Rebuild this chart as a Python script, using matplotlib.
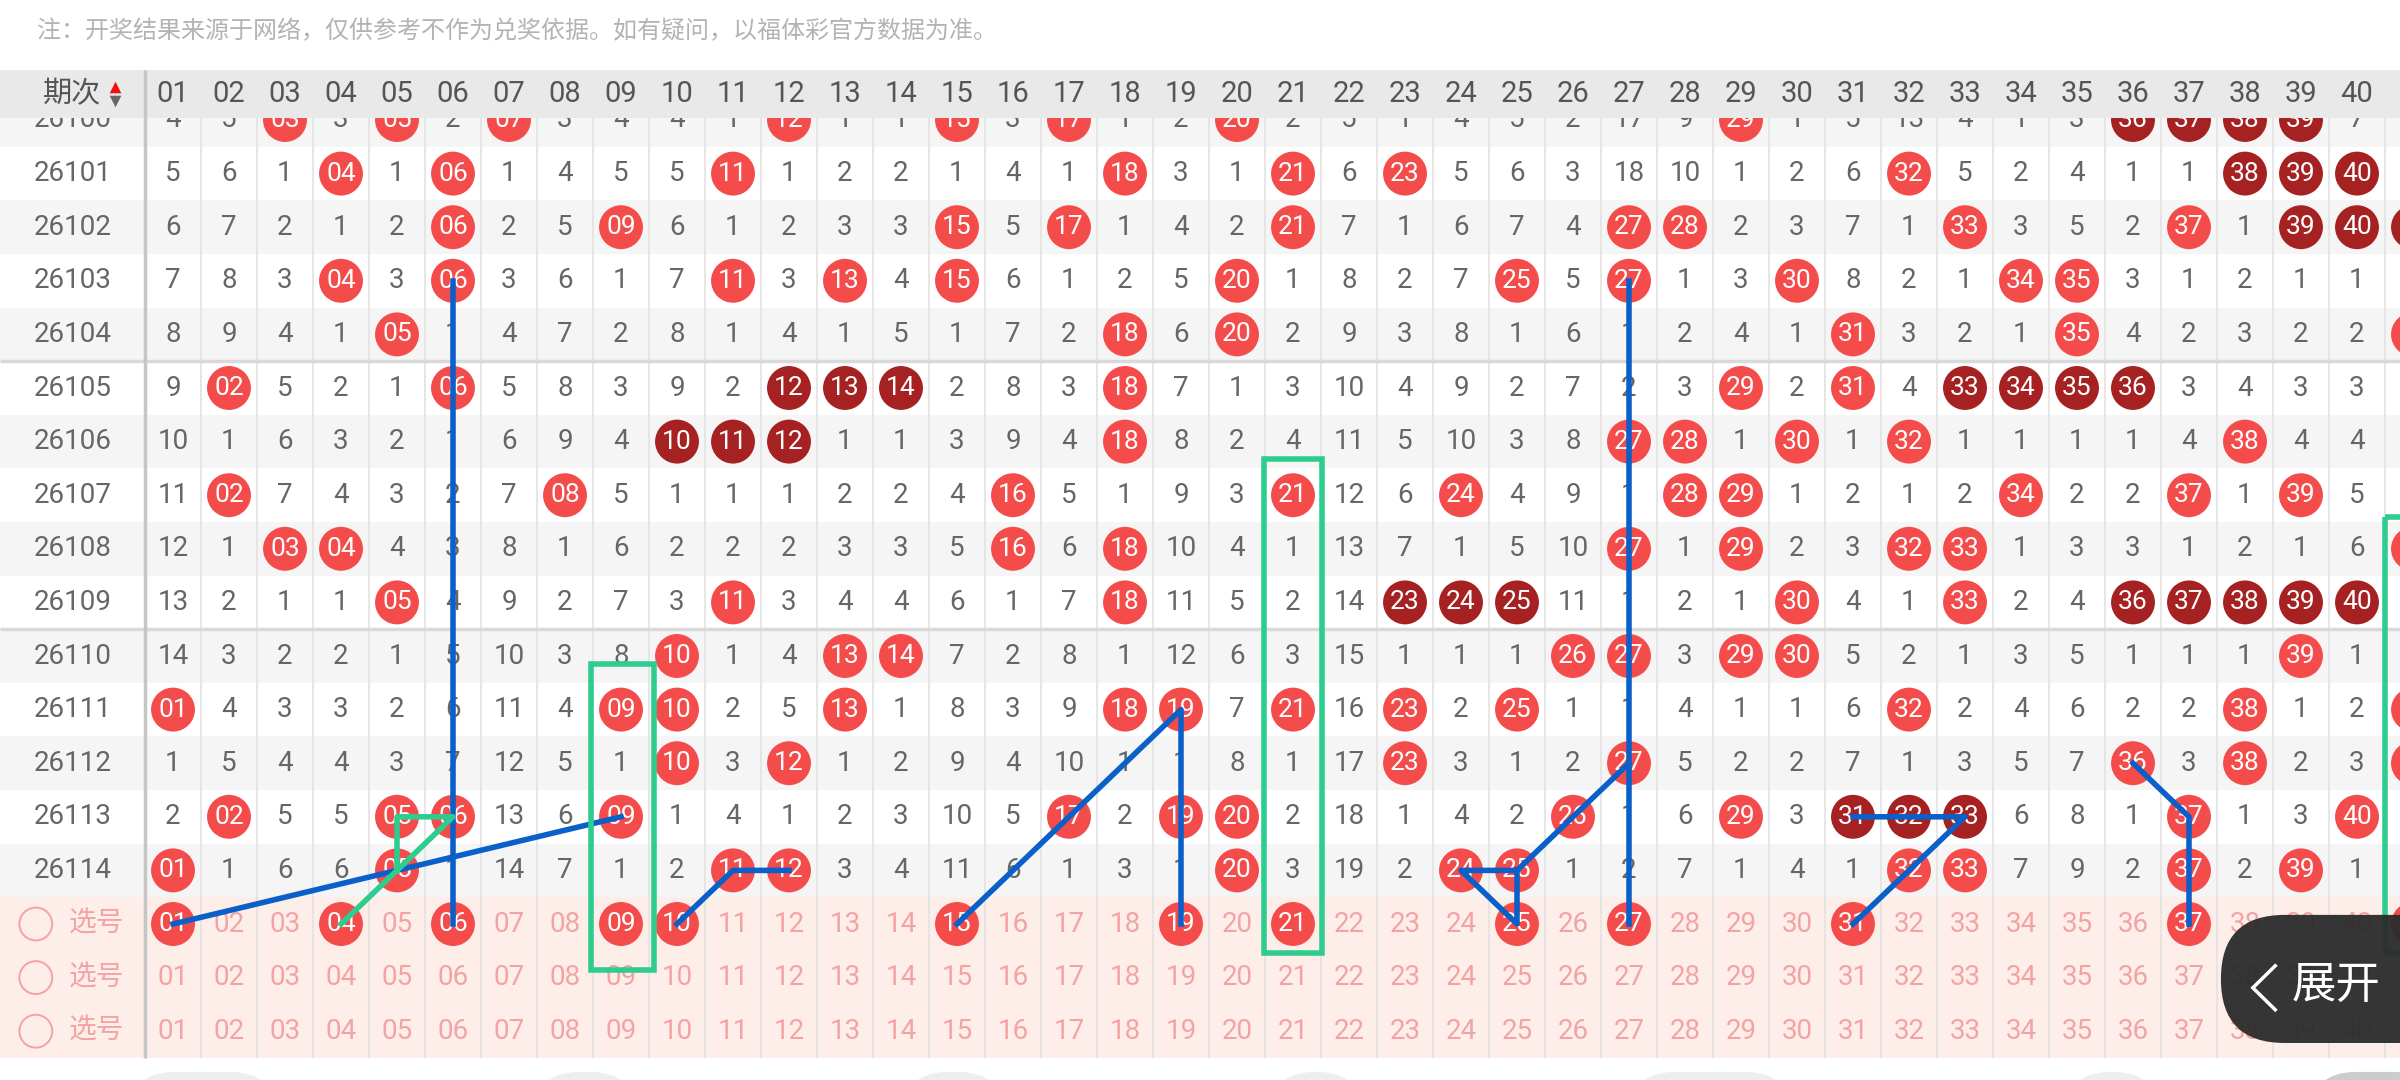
import matplotlib.pyplot as plt
from matplotlib.patches import FancyBboxPatch, Rectangle

plt.rcParams['font.family'] = ['Roboto', 'Noto Sans CJK SC', 'DejaVu Sans']

note = "注：开奖结果来源于网络，仅供参考不作为兑奖依据。如有疑问，以福体彩官方数据为准。"
periods = ['26100', '26101', '26102', '26103', '26104', '26105', '26106', '26107',
           '26108', '26109', '26110', '26111', '26112', '26113', '26114']
columns = list(range(1, 42))
shown_cols = 40  # column 41 only peeks in at the right edge

# omission counts per number 01..41, 0 = drawn in that period
p26100 = [4, 5, 0, 3, 0, 2, 0, 3, 4, 4, 1, 0, 1, 1, 0, 3, 0, 1, 2, 0, 2, 5, 1, 4, 5, 2, 17, 9, 0, 1, 5, 13, 4, 1, 3, 0, 0, 0, 0, 7, 1]
p26101 = [5, 6, 1, 0, 1, 0, 1, 4, 5, 5, 0, 1, 2, 2, 1, 4, 1, 0, 3, 1, 0, 6, 0, 5, 6, 3, 18, 10, 1, 2, 6, 0, 5, 2, 4, 1, 1, 0, 0, 0, 2]
p26102 = [6, 7, 2, 1, 2, 0, 2, 5, 0, 6, 1, 2, 3, 3, 0, 5, 0, 1, 4, 2, 0, 7, 1, 6, 7, 4, 0, 0, 2, 3, 7, 1, 0, 3, 5, 2, 0, 1, 0, 0, 0]
p26103 = [7, 8, 3, 0, 3, 0, 3, 6, 1, 7, 0, 3, 0, 4, 0, 6, 1, 2, 5, 0, 1, 8, 2, 7, 0, 5, 0, 1, 3, 0, 8, 2, 1, 0, 0, 3, 1, 2, 1, 1, 1]
p26104 = [8, 9, 4, 1, 0, 1, 4, 7, 2, 8, 1, 4, 1, 5, 1, 7, 2, 0, 6, 0, 2, 9, 3, 8, 1, 6, 1, 2, 4, 1, 0, 3, 2, 1, 0, 4, 2, 3, 2, 2, 0]
p26105 = [9, 0, 5, 2, 1, 0, 5, 8, 3, 9, 2, 0, 0, 0, 2, 8, 3, 0, 7, 1, 3, 10, 4, 9, 2, 7, 2, 3, 0, 2, 0, 4, 0, 0, 0, 0, 3, 4, 3, 3, 1]
p26106 = [10, 1, 6, 3, 2, 1, 6, 9, 4, 0, 0, 0, 1, 1, 3, 9, 4, 0, 8, 2, 4, 11, 5, 10, 3, 8, 0, 0, 1, 0, 1, 0, 1, 1, 1, 1, 4, 0, 4, 4, 2]
p26107 = [11, 0, 7, 4, 3, 2, 7, 0, 5, 1, 1, 1, 2, 2, 4, 0, 5, 1, 9, 3, 0, 12, 6, 0, 4, 9, 1, 0, 0, 1, 2, 1, 2, 0, 2, 2, 0, 1, 0, 5, 3]
p26108 = [12, 1, 0, 0, 4, 3, 8, 1, 6, 2, 2, 2, 3, 3, 5, 0, 6, 0, 10, 4, 1, 13, 7, 1, 5, 10, 0, 1, 0, 2, 3, 0, 0, 1, 3, 3, 1, 2, 1, 6, 0]
p26109 = [13, 2, 1, 1, 0, 4, 9, 2, 7, 3, 0, 3, 4, 4, 6, 1, 7, 0, 11, 5, 2, 14, 0, 0, 0, 11, 1, 2, 1, 0, 4, 1, 0, 2, 4, 0, 0, 0, 0, 0, 1]
p26110 = [14, 3, 2, 2, 1, 5, 10, 3, 8, 0, 1, 4, 0, 0, 7, 2, 8, 1, 12, 6, 3, 15, 1, 1, 1, 0, 0, 3, 0, 0, 5, 2, 1, 3, 5, 1, 1, 1, 0, 1, 2]
p26111 = [0, 4, 3, 3, 2, 6, 11, 4, 0, 0, 2, 5, 0, 1, 8, 3, 9, 0, 0, 7, 0, 16, 0, 2, 0, 1, 1, 4, 1, 1, 6, 0, 2, 4, 6, 2, 2, 0, 1, 2, 0]
p26112 = [1, 5, 4, 4, 3, 7, 12, 5, 1, 0, 3, 0, 1, 2, 9, 4, 10, 1, 1, 8, 1, 17, 0, 3, 1, 2, 0, 5, 2, 2, 7, 1, 3, 5, 7, 0, 3, 0, 2, 3, 0]
p26113 = [2, 0, 5, 5, 0, 0, 13, 6, 0, 1, 4, 1, 2, 3, 10, 5, 0, 2, 0, 0, 2, 18, 1, 4, 2, 0, 1, 6, 0, 3, 0, 0, 0, 6, 8, 1, 0, 1, 3, 0, 1]
p26114 = [0, 1, 6, 6, 0, 1, 14, 7, 1, 2, 0, 0, 3, 4, 11, 6, 1, 3, 1, 0, 3, 19, 2, 0, 0, 1, 2, 7, 1, 4, 1, 0, 0, 7, 9, 2, 0, 2, 0, 1, 2]
rows = [p26100, p26101, p26102, p26103, p26104, p26105, p26106, p26107,
        p26108, p26109, p26110, p26111, p26112, p26113, p26114]

pick_label = "选号"
picked = [1, 4, 6, 9, 10, 15, 19, 21, 25, 27, 31, 37, 41]

# hand drawn marks: (number, row index), row 15 = first 选号 row
blue_paths = [
    [(6, 3), (6, 15)],
    [(27, 3), (27, 15)],
    [(1, 15), (9, 13)],
    [(10, 15), (11, 14), (12, 14)],
    [(15, 15), (19, 11), (19, 15)],
    [(27, 12), (25, 14), (24, 14), (25, 15), (25, 14)],
    [(31, 13), (33, 13), (31, 15)],
    [(36, 12), (37, 13), (37, 15)],
]
green_paths = [[(4, 15), (6, 13), (5, 13), (5, 14)]]
green_boxes = [(8.46, 9.59, 10.15, 15.86), (20.48, 21.52, 6.32, 15.54), (40.5, 41.5, 7.4, 15.54)]

RED = '#f44b4b'
DARK = '#a62121'
BLUE = '#0a60c8'
GREEN = '#2ecc8f'
PINK = '#f4a3a3'
GRAY_TXT = '#666666'

fig = plt.figure(figsize=(24, 10.8), dpi=100)
ax = fig.add_axes([0, 0, 1, 1])
x0, x1 = -117 / 56, (2400 - 117) / 56
y0, y1 = -120 / 53.6, (1080 - 120) / 53.6
ax.set_xlim(x0, x1)
ax.set_ylim(y1, y0)
ax.axis('off')

nrow = len(rows)
# row backgrounds
for r in range(nrow):
    ax.axhspan(r - 0.5, r + 0.5, color='#f5f5f5' if r % 2 == 0 else 'white', zorder=0, lw=0)
ax.axhspan(nrow - 0.5, nrow + 2.5, color='#fdeeea', zorder=0, lw=0)

# grid
ax.vlines([c + 0.5 for c in columns], -0.04, nrow + 2.5, color='#e2e2e2', lw=1.2, zorder=1)
ax.hlines([4.5, 9.5], x0, x1, color='#d9d9d9', lw=2.5, zorder=1.5)

# table body
bx, by, bc = [], [], []
for r, row in enumerate(rows):
    drawn = [v == 0 for v in row]
    for i, v in enumerate(row):
        c = columns[i]
        if drawn[i]:
            lo = i
            while lo > 0 and drawn[lo - 1]:
                lo -= 1
            hi = i
            while hi < len(row) - 1 and drawn[hi + 1]:
                hi += 1
            bx.append(c)
            by.append(r)
            bc.append(DARK if hi - lo + 1 >= 3 else RED)
            if c <= shown_cols:
                ax.text(c, r, f"{c:02d}", ha='center', va='center', fontsize=19,
                        color='white', zorder=3)
        elif c <= shown_cols:
            ax.text(c, r, str(v), ha='center', va='center', fontsize=20,
                    color=GRAY_TXT, zorder=3)
    ax.text(-0.79, r, periods[r], ha='center', va='center', fontsize=20,
            color=GRAY_TXT, zorder=3)

# 选号 rows
for k in range(3):
    r = nrow + k
    ax.scatter([-1.45], [r], s=560, facecolors='none', edgecolors=PINK, linewidths=1.4, zorder=3)
    ax.text(-0.37, r, pick_label, ha='center', va='center', fontsize=20, color=PINK, zorder=3)
    for c in columns:
        if k == 0 and c in picked:
            bx.append(c)
            by.append(r)
            bc.append(RED)
            if c <= shown_cols:
                ax.text(c, r, f"{c:02d}", ha='center', va='center', fontsize=19,
                        color='white', zorder=3)
        elif c <= shown_cols:
            ax.text(c, r, f"{c:02d}", ha='center', va='center', fontsize=20,
                    color=PINK, zorder=3)

ax.scatter(bx, by, s=1000, c=bc, linewidths=0, zorder=2)

# header
ax.axhspan(-0.933, -0.037, color='#e9e9e9', zorder=4, lw=0)
for c in columns[:shown_cols]:
    ax.text(c, -0.48, f"{c:02d}", ha='center', va='center', fontsize=21, color='#555555', zorder=5)
ax.text(-0.8, -0.48, "期次", ha='center', va='center', fontsize=21, color='#555555', zorder=5)
ax.scatter([-0.04], [-0.62], marker='^', s=70, color='#ee1111', linewidths=0, zorder=5)
ax.scatter([-0.04], [-0.36], marker='v', s=70, color='#666666', linewidths=0, zorder=5)
ax.vlines(0.5, -0.933, nrow + 2.5, color='#c6c6c6', lw=2.5, zorder=5)

ax.text(-1.43, -1.66, note, ha='left', va='center', fontsize=17.3, color='#b3b3b3')

# annotations
for path in blue_paths:
    xs, ys = zip(*path)
    ax.plot(xs, ys, color=BLUE, lw=4, zorder=6, solid_joinstyle='round')
for path in green_paths:
    xs, ys = zip(*path)
    ax.plot(xs, ys, color=GREEN, lw=4, zorder=6)
for left, right, top, bottom in green_boxes:
    ax.add_patch(Rectangle((left, top), right - left, bottom - top, fill=False,
                           edgecolor=GREEN, lw=4, zorder=6))

# bottom buttons peeking in
for left, right, col in [(0.23, 2.82, '#eeeeee'), (7.46, 9.25, '#eeeeee'), (14.04, 15.82, '#eeeeee'),
                         (20.59, 22.23, '#eeeeee'), (27.02, 29.88, '#eeeeee'), (34.8, 36.45, '#eeeeee'),
                         (39.18, 41.5, '#cccccc')]:
    ax.add_patch(FancyBboxPatch((left, 17.76), right - left, 1.5,
                                boxstyle="round,pad=0,rounding_size=0.8",
                                facecolor=col, edgecolor='none', zorder=1))

# 展开 pill
ax.add_patch(FancyBboxPatch((37.57, 14.83), 5, 2.39, boxstyle="round,pad=0,rounding_size=1.14",
                            mutation_aspect=1.045, facecolor='#2b2b2b', edgecolor='none',
                            alpha=0.95, zorder=8))
ax.plot([38.54, 38.14, 38.54], [15.78, 16.19, 16.6], color='white', lw=2.5, zorder=9,
        solid_joinstyle='miter')
ax.text(39.62, 16.16, "展开", ha='center', va='center', fontsize=32, color='white', zorder=9)

fig.savefig('out.png', dpi=100)
